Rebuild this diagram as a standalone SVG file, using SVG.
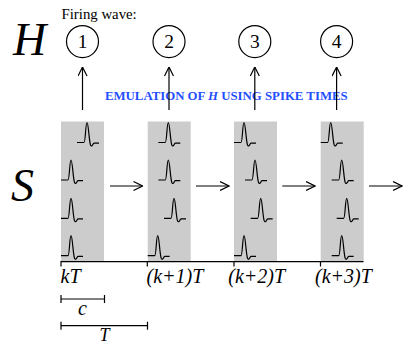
<svg xmlns="http://www.w3.org/2000/svg" width="419" height="345" viewBox="0 0 419 345">
<style>
.ser{font-family:"Liberation Serif","Times New Roman",serif;fill:#000}
.it{font-style:italic}
.ln{stroke:#000;stroke-width:1.2;fill:none}
.box{fill:#cccccc}
.emu{font-family:"Liberation Serif","Times New Roman",serif;font-weight:bold;fill:#1f4fff;font-size:12.8px}
</style>
<defs>
<marker id="ah" viewBox="0 0 10 10" refX="9.5" refY="5" markerWidth="10" markerHeight="10" markerUnits="userSpaceOnUse" orient="auto">
<path d="M0.5,0.5 L9.5,5 L0.5,9.5" fill="none" stroke="#000" stroke-width="1.2"/>
</marker>
<path id="sp" d="M0,0 H7 C8.5,0 8.6,-20 10,-20 C11.4,-20 12,-2 13.5,2.5 C14.5,4.5 15.5,3 16.5,1 L17.2,0.6 H22" fill="none" stroke="#000" stroke-width="1.2"/>
</defs>
<g id="labels">
<text class="ser it" x="13" y="55" font-size="46">H</text>
<text class="ser it" x="11" y="201" font-size="46">S</text>
<text class="ser" x="61.5" y="18.5" font-size="14.8">Firing wave:</text>
<text class="emu" x="105" y="99.5">EMULATION OF <tspan font-style="italic">H</tspan> USING SPIKE TIMES</text>
</g>
<g id="node-1"><circle cx="82.5" cy="41.6" r="16" class="ln" stroke-width="1.7"/><text class="ser" x="82.5" y="48.2" font-size="19.5" text-anchor="middle">1</text></g>
<g id="node-2"><circle cx="169" cy="41.6" r="16" class="ln" stroke-width="1.7"/><text class="ser" x="169" y="48.2" font-size="19.5" text-anchor="middle">2</text></g>
<g id="node-3"><circle cx="254.8" cy="41.6" r="16" class="ln" stroke-width="1.7"/><text class="ser" x="254.8" y="48.2" font-size="19.5" text-anchor="middle">3</text></g>
<g id="node-4"><circle cx="336.6" cy="41.6" r="16" class="ln" stroke-width="1.7"/><text class="ser" x="336.6" y="48.2" font-size="19.5" text-anchor="middle">4</text></g>
<g id="window-1">
<rect class="box" x="61" y="121.5" width="43" height="140"/>
<use href="#sp" x="77" y="142.5"/><use href="#sp" x="61" y="180"/><use href="#sp" x="61" y="218.3"/><use href="#sp" x="61" y="255.7"/>
</g>
<g id="window-2">
<rect class="box" x="147.7" y="121.5" width="43" height="140"/>
<use href="#sp" x="158.3" y="142.5"/><use href="#sp" x="158.3" y="180"/><use href="#sp" x="164" y="218.3"/><use href="#sp" x="147.7" y="255.7"/>
</g>
<g id="window-3">
<rect class="box" x="234" y="121.5" width="43" height="140"/>
<use href="#sp" x="234" y="142.5"/><use href="#sp" x="245" y="180"/><use href="#sp" x="250.7" y="218.3"/><use href="#sp" x="234" y="255.7"/>
</g>
<g id="window-4">
<rect class="box" x="320.7" y="121.5" width="43" height="140"/>
<use href="#sp" x="320.7" y="142.5"/><use href="#sp" x="331.7" y="180"/><use href="#sp" x="336.7" y="218.3"/><use href="#sp" x="331.7" y="255.7"/>
</g>
<g id="connectors" class="ln">
<line x1="82.5" y1="110" x2="82.5" y2="67" marker-end="url(#ah)"/>
<line x1="169" y1="110" x2="169" y2="67" marker-end="url(#ah)"/>
<line x1="254.8" y1="110" x2="254.8" y2="67" marker-end="url(#ah)"/>
<line x1="336.6" y1="110" x2="336.6" y2="67" marker-end="url(#ah)"/>
<line x1="110" y1="186" x2="142.5" y2="186" marker-end="url(#ah)"/>
<line x1="196" y1="186" x2="229" y2="186" marker-end="url(#ah)"/>
<line x1="282.3" y1="186" x2="315" y2="186" marker-end="url(#ah)"/>
<line x1="369" y1="186" x2="402" y2="186" marker-end="url(#ah)"/>
</g>
<g id="axis" class="ln">
<line x1="61" y1="261.7" x2="363.5" y2="261.7"/>
<line x1="61" y1="261" x2="61" y2="266.5"/>
<line x1="147.3" y1="261" x2="147.3" y2="266.5"/>
<line x1="234" y1="261" x2="234" y2="266.5"/>
<line x1="320.5" y1="261" x2="320.5" y2="266.5"/>
<line x1="61" y1="299" x2="104.5" y2="299"/>
<line x1="61" y1="295" x2="61" y2="303"/>
<line x1="104.5" y1="295" x2="104.5" y2="303"/>
<line x1="61" y1="325.7" x2="147.5" y2="325.7"/>
<line x1="61" y1="321.7" x2="61" y2="329.7"/>
<line x1="147.5" y1="321.7" x2="147.5" y2="329.7"/>
</g>
<g id="axis-labels" class="ser it" font-size="20">
<text x="60.5" y="283">kT</text>
<text x="146.5" y="283">(k+1)T</text>
<text x="228.3" y="283">(k+2)T</text>
<text x="315" y="283">(k+3)T</text>
<text x="82.5" y="315" text-anchor="middle">c</text>
<text x="104.5" y="341" text-anchor="middle" font-size="18">T</text>
</g>
</svg>
